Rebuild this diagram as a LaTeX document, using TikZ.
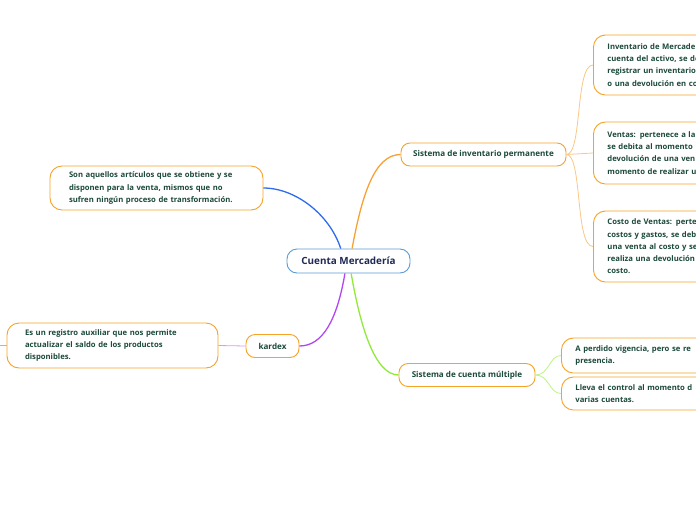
\documentclass[tikz,border=0pt]{standalone}
\usepackage{fontspec}
\setsansfont{Open Sans}
\usepackage{xcolor}
\usetikzlibrary{positioning}
\definecolor{rootline}{HTML}{5B9BD5}
\definecolor{rootink}{HTML}{1F2A55}
\definecolor{branchor}{HTML}{F5A327}
\definecolor{noteink}{HTML}{1C4A3A}
\definecolor{linkblue}{HTML}{2F6BF0}
\definecolor{linkorange}{HTML}{F7A234}
\definecolor{linkpurple}{HTML}{B246F2}
\definecolor{linkgreen}{HTML}{8FEA3A}

\begin{document}
\begin{tikzpicture}[x=1pt, y=-1pt, font=\sffamily\bfseries]

\tikzset{
  rootbox/.style={rounded corners=10pt, draw=rootline, fill=white, line width=0.9pt,
                  minimum width=123pt, minimum height=24pt, inner sep=0pt,
                  font=\fontsize{9.9}{11}\selectfont\sffamily\bfseries, text=rootink},
  topicbox/.style={rounded corners=9pt, draw=branchor, fill=white, line width=0.9pt,
                   minimum height=23pt, inner sep=0pt,
                   font=\fontsize{8.1}{9}\selectfont\sffamily\bfseries, text=noteink},
  notebox/.style={rounded corners=12pt, draw=branchor, fill=white, line width=0.9pt,
                  align=left, inner ysep=0pt,
                  font=\fontsize{7.7}{12.2}\selectfont\sffamily\bfseries, text=noteink},
  mainlink/.style={line width=1.3pt},
  sublink/.style={line width=0.8pt}}

\useasboundingbox (0,0) rectangle (696,520);
\clip (0,0) rectangle (696,520);

% centre
\node[rootbox] (root) at (348.5,261) {Cuenta Mercadería};

% first level
\node[topicbox, minimum width=165pt] (perm) at (483.5,154.5) {Sistema de inventario permanente};
\node[topicbox, minimum width=136pt] (mult) at (467,375) {Sistema de cuenta múltiple};
\node[topicbox, minimum width=53pt] (kardex) at (272.5,346) {kardex};

% notes, left side
\node[notebox, text width=175pt, inner xsep=19pt, minimum height=44pt] (defnote) at (156.5,188)
  {Son aquellos artículos que se obtiene y se\\disponen para la venta, mismos que no\\sufren ningún proceso de transformación.};
\node[notebox, text width=175pt, inner xsep=18pt, minimum height=45pt] (kardexnote) at (112.5,345.5)
  {Es un registro auxiliar que nos permite\\actualizar el saldo de los productos\\disponibles.};
\coordinate (kardexend) at (0,345.5);

% notes, right side (cut by the page edge)
\node[notebox, text width=160pt, inner xsep=14pt, minimum height=60pt, anchor=west] (invnote) at (593,65)
  {Inventario de Mercade\\cuenta del activo, se de\\registrar un inventario\\o una devolución en co};
\node[notebox, text width=160pt, inner xsep=14pt, minimum height=62pt, anchor=west] (ventnote) at (593,153)
  {Ventas: pertenece a la\\se debita al momento\\devolución de una ven\\momento de realizar u};
\node[notebox, text width=160pt, inner xsep=14pt, minimum height=71pt, anchor=west] (costnote) at (593,246.5)
  {Costo de Ventas: perte\\costos y gastos, se deb\\una venta al costo y se\\realiza una devolución\\costo.};
\node[notebox, text width=160pt, inner xsep=14pt, minimum height=35pt, anchor=west] (vignote) at (561,355.5)
  {A perdido vigencia, pero se re\\presencia.};
\node[notebox, text width=160pt, inner xsep=14pt, minimum height=33pt, anchor=west] (ctrlnote) at (561,393.5)
  {Lleva el control al momento d\\varias cuentas.};

% branches from the centre
\draw[mainlink, linkblue] (root.122) .. controls +(-11,-34) and +(32,0) .. (defnote.east);
\draw[mainlink, linkorange] (root.74) .. controls +(10,-54) and +(-26,0) .. (perm.west);
\draw[mainlink, linkpurple] (root.254) .. controls +(-8,47) and +(23,0) .. (kardex.east);
\draw[mainlink, linkgreen] (root.282) .. controls +(9,52) and +(-24,0) .. (mult.west);

% secondary links
\draw[sublink, linkorange!60] (perm.east) .. controls +(16,0) and +(-18,0) .. (invnote.west);
\draw[sublink, linkorange!60] (perm.east) -- (ventnote.west);
\draw[sublink, linkorange!60] (perm.east) .. controls +(16,0) and +(-18,0) .. (costnote.west);
\draw[sublink, linkgreen!60] (mult.east) .. controls +(14,0) and +(-12,0) .. (vignote.west);
\draw[sublink, linkgreen!60] (mult.east) .. controls +(14,0) and +(-12,0) .. (ctrlnote.west);
\draw[sublink, linkpurple!55] (kardex.west) -- (kardexnote.east);
\draw[sublink, linkpurple!55] (kardexnote.west) -- (kardexend);

\end{tikzpicture}
\end{document}
